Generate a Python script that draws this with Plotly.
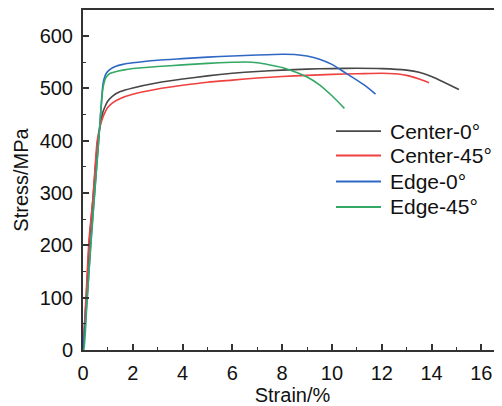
import plotly.graph_objects as go

names = ["Center-0°", "Center-45°", "Edge-0°", "Edge-45°"]
colors = ["#474747", "#f04040", "#2f68c4", "#34a865"]

c0_x = [0, 0.13, 0.25, 0.4, 0.58, 0.7, 0.8, 0.9, 1.0, 1.2, 1.5, 2.0, 3, 4, 5, 6, 7, 8, 9, 10, 11, 12, 13, 13.5, 14, 14.5, 15.1]
c0_y = [0, 100, 205, 290, 395, 432, 455, 467, 476, 486, 494, 501, 511, 518, 524, 529, 532.5, 535, 537, 538, 538.5, 538, 535, 531, 523, 512, 498]

c45_x = [0, 0.12, 0.24, 0.4, 0.57, 0.7, 0.8, 0.9, 1.0, 1.2, 1.5, 2.0, 3, 4, 5, 6, 7, 8, 9, 10, 11, 12, 12.5, 13, 13.5, 13.9]
c45_y = [0, 100, 210, 290, 400, 430, 445, 456, 464, 473, 481, 489, 499, 506, 512, 516, 520, 523, 525, 527, 528, 529, 528, 525, 518, 511]

e0_x = [0, 0.17, 0.32, 0.5, 0.63, 0.72, 0.8, 0.87, 0.95, 1.1, 1.3, 1.6, 2, 3, 4, 5, 6, 7, 8, 8.5, 9, 9.5, 10, 10.5, 11, 11.4, 11.75]
e0_y = [0, 100, 210, 320, 400, 460, 508, 522, 530, 537, 542, 546, 549, 554, 557, 560, 562, 564, 565.5, 565, 562, 556, 546, 531, 516, 503, 489]

e45_x = [0, 0.03, 0.17, 0.33, 0.5, 0.63, 0.72, 0.8, 0.87, 0.95, 1.1, 1.3, 1.6, 2, 3, 4, 5, 6, 6.5, 7, 7.5, 8, 8.5, 9, 9.5, 10, 10.5]
e45_y = [0, 0, 100, 210, 320, 400, 460, 500, 515, 523, 529, 532, 535, 538, 542, 545, 548, 550, 550.5, 549, 545, 540, 532, 522, 507, 486, 462]

series = [(c0_x, c0_y), (c45_x, c45_y), (e0_x, e0_y), (e45_x, e45_y)]

x_ticks = [0, 2, 4, 6, 8, 10, 12, 14, 16]
y_ticks = [0, 100, 200, 300, 400, 500, 600]

fig = go.Figure()
for (xs, ys), n, c in zip(series, names, colors):
    fig.add_trace(go.Scatter(x=xs, y=ys, mode="lines", name=n, showlegend=False,
                             line=dict(color=c, width=1.6, shape="spline", smoothing=0.6)))

FAM = "Liberation Sans, Arial, sans-serif"
font = dict(family=FAM, size=20, color="#111")
axis_common = dict(showline=True, linecolor="#333", linewidth=2, ticks="inside",
                   ticklen=6, tickwidth=1.5, tickcolor="#333", showgrid=False,
                   zeroline=False, tickfont=font, ticklabelstandoff=4, automargin=False)

fig.update_xaxes(range=[0, 16.83], tickvals=x_ticks, mirror=True,
                 minor=dict(dtick=1, tick0=0, ticks="inside", ticklen=3, tickwidth=1.2, tickcolor="#333"),
                 title=dict(text="Strain/%", font=font, standoff=7), **axis_common)
fig.update_yaxes(range=[0, 650], tickvals=y_ticks,
                 minor=dict(dtick=50, tick0=0, ticks="inside", ticklen=3, tickwidth=1.2, tickcolor="#333"),
                 title=dict(text="Stress/MPa", font=font, standoff=6), **axis_common)

# manual legend (line swatches + labels) placed in paper coordinates
leg_rows = [0.644, 0.572, 0.4956, 0.4206]
for n, c, yy in zip(names, colors, leg_rows):
    fig.add_shape(type="line", xref="paper", yref="paper", x0=0.6038, x1=0.7112, y0=yy, y1=yy,
                  line=dict(color=c, width=1.8))
    fig.add_annotation(xref="paper", yref="paper", x=0.728, y=yy, text=n, showarrow=False,
                       xanchor="left", yanchor="middle", font=dict(family=FAM, size=21, color="#111"))

# the page body has an 8px margin, so the figure is sized/offset to compensate
fig.update_layout(
    width=494, height=398,
    margin=dict(l=75, r=0, t=2, b=56),
    plot_bgcolor="white", paper_bgcolor="white",
    font=font,
    showlegend=False,
)

fig.write_html("out.html")
